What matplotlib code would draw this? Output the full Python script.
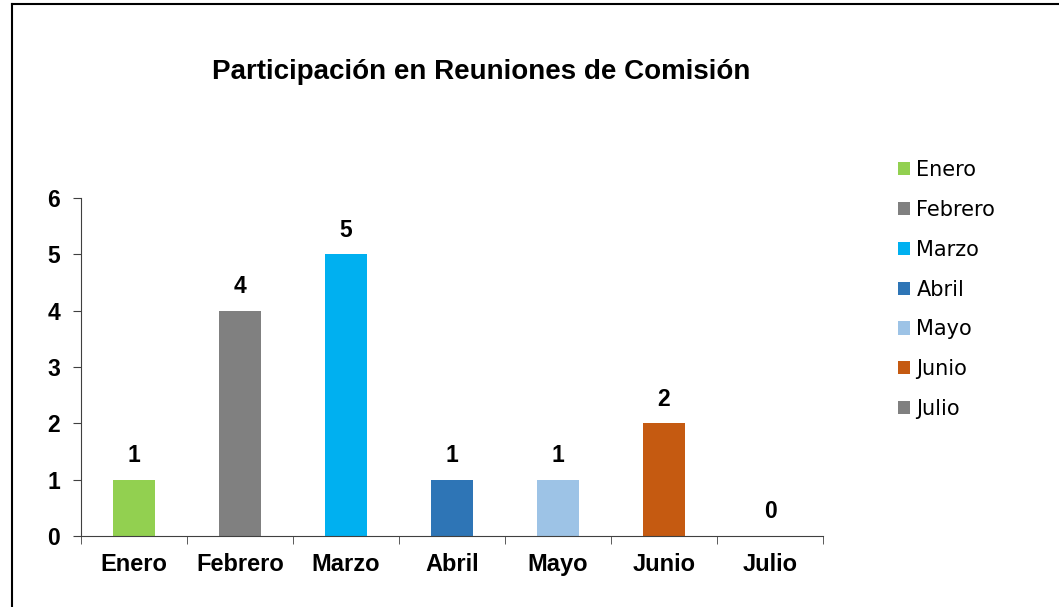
import numpy as np
import matplotlib
matplotlib.use("Agg")
import matplotlib.pyplot as plt
from matplotlib.lines import Line2D
from matplotlib.patches import Patch

# data
months = ["Enero", "Febrero", "Marzo", "Abril", "Mayo", "Junio", "Julio"]
reuniones = [1, 4, 5, 1, 1, 2, 0]
colores = ["#92D050", "#808080", "#00B0F0", "#2E75B6", "#9DC3E6", "#C55A11", "#808080"]
y_ticks = [0, 1, 2, 3, 4, 5, 6]

plt.rcParams["font.family"] = ["Liberation Sans", "DejaVu Sans"]

def main():
    fig = plt.figure(figsize=(10.59, 6.07), dpi=100)
    ax = fig.add_axes([0.0765, 0.117, 0.7007, 0.557])

    x = np.arange(len(months))
    ax.bar(x, reuniones, width=0.40, color=colores)

    # value labels on top of bars
    for xi, v in zip(x, reuniones):
        ax.annotate(str(v), (xi, v), xytext=(0, 9), textcoords="offset points",
                    ha="center", va="bottom", fontsize=16.5, fontweight="bold")

    ax.set_xlim(-0.5, len(months) - 0.5)
    ax.set_ylim(0, 6)
    ax.set_yticks(y_ticks)
    ax.set_xticks(x)
    ax.set_xticklabels(months, fontsize=17, fontweight="bold")
    ax.set_xticks(np.arange(len(months) + 1) - 0.5, minor=True)
    ax.tick_params(axis="x", which="major", length=0, pad=12)
    ax.tick_params(axis="x", which="minor", length=6, direction="out", color="#404040")
    ax.tick_params(axis="y", length=6, direction="out", color="#404040", pad=9)
    for lab in ax.get_yticklabels():
        lab.set_fontsize(16.5)
        lab.set_fontweight("bold")

    for s in ["top", "right"]:
        ax.spines[s].set_visible(False)
    for s in ["left", "bottom"]:
        ax.spines[s].set_color("#404040")

    fig.text(0.454, 0.881, "Participación en Reuniones de Comisión",
             ha="center", va="center", fontsize=20, fontweight="bold")

    handles = [Patch(facecolor=c, label=m) for m, c in zip(months, colores)]
    fig.legend(handles=handles, loc="upper left", bbox_to_anchor=(0.830, 0.767),
               frameon=False, prop={"family": "DejaVu Sans", "size": 15},
               handlelength=0.6, handleheight=0.6, handletextpad=0.3,
               labelspacing=0.95)

    # outer border (top and left visible)
    fig.add_artist(Line2D([12 / 1059, 1.0], [1 - 4 / 607, 1 - 4 / 607],
                          transform=fig.transFigure, color="black", lw=1.5))
    fig.add_artist(Line2D([12 / 1059, 12 / 1059], [0.0, 1 - 4 / 607],
                          transform=fig.transFigure, color="black", lw=1.5))

    fig.savefig("out.png", dpi=100)

if __name__ == "__main__":
    main()
